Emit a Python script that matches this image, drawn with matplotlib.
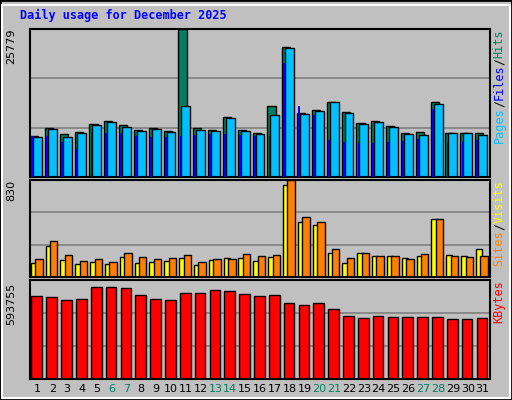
import matplotlib
matplotlib.use("Agg")
import matplotlib.pyplot as plt
from matplotlib.patches import Rectangle

days = list(range(1, 32))
weekend = [6, 7, 13, 14, 20, 21, 27, 28]
hits = [7190, 8590, 7540, 7890, 9300, 9820, 9120, 8240, 8590, 8070, 25779, 8590, 8240, 10520, 8240, 7720,
        12280, 22630, 11230, 11750, 13150, 11400, 9470, 9820, 8950, 7720, 7890, 13150, 7720, 7720, 7720]
files = [7020, 8420, 7020, 7720, 9120, 9650, 8770, 8070, 8420, 7890, 12280, 8240, 8070, 10350, 8070, 7540,
         10870, 22450, 11050, 11580, 12980, 11230, 9300, 9650, 8770, 7540, 7370, 12800, 7720, 7720, 7370]
pages = [7190, 7190, 6140, 4910, 7890, 7720, 7720, 7190, 7020, 7020, 7190, 7370, 7540, 7540, 7370, 7190,
         7190, 19820, 12280, 10870, 6490, 6140, 5960, 5960, 6140, 6310, 6670, 11930, 6140, 6140, 6490]
visits = [120, 265, 145, 110, 128, 110, 171, 120, 128, 137, 162, 103, 145, 162, 162, 137, 171, 787, 470, 445, 205, 120, 205, 180, 180, 162, 180, 496, 188, 180, 239]
sites = [154, 308, 188, 137, 154, 128, 205, 171, 154, 162, 188, 128, 154, 154, 197, 180, 188, 830, 513, 470, 239, 162, 205, 180, 180, 154, 197, 496, 180, 171, 180]
kbytes = [535000, 529000, 510000, 516000, 593755, 593755, 587000, 542000, 516000, 510000, 555000, 555000, 574000, 568000, 548000, 535000, 542000, 490000, 477000, 490000, 452000, 406000, 394000, 406000, 400000, 400000, 400000, 400000, 387000, 387000, 394000]

BG = "#C0C0C0"
fig = plt.figure(figsize=(5.12, 4.0), dpi=100)
fig.patch.set_facecolor(BG)
fig.patches.append(Rectangle((0, 0), 1, 1, transform=fig.transFigure, fill=False, ec="black", lw=2))
fig.patches.append(Rectangle((2/512, 2/400), 508/512, 393/400, transform=fig.transFigure, fill=False, ec="white", lw=1.5))
fig.text(20/512, 1-15/400, "Daily usage for December 2025", color="#0000FF", family="DejaVu Sans Mono",
         weight="bold", fontsize=8.5, va="center")

L, W = 30/512, 460/512
def mkax(top, bot):
    ax = fig.add_axes([L, 1-bot/400, W, (bot-top)/400])
    ax.set_facecolor(BG)
    ax.set_xlim(0.5, 31.5)
    ax.set_xticks([])
    ax.set_yticks([])
    for s in ax.spines.values():
        s.set_color("black"); s.set_linewidth(1.5)
    return ax

ax1 = mkax(29, 177)
ymax1 = 25779 * 1.0
ax1.set_ylim(0, ymax1)
for g in (1/3, 2/3):
    ax1.axhline(ymax1*g, color="#808080", lw=1.2, zorder=0)
x = [d for d in days]
ax1.bar([d-0.5 for d in x], hits, width=0.55, align="edge", color="#008060", ec="black", lw=1)
ax1.bar([d-0.3 for d in x], files, width=0.6, align="edge", color="#00C0FF", ec="black", lw=1)
ax1.bar([d-0.42 for d in x], pages, width=0.12, align="edge", color="#0000FF", lw=0, zorder=3)
ax1.text(-0.04, 1.0, "25779", transform=ax1.transAxes, rotation=90, ha="center", va="top", fontsize=8)

ax2 = mkax(180, 277)
ax2.set_ylim(0, 830)
for g in (1/3, 2/3):
    ax2.axhline(830*g, color="#808080", lw=1.2, zorder=0)
ax2.bar([d-0.45 for d in x], visits, width=0.4, align="edge", color="#FFFF00", ec="black", lw=1)
ax2.bar([d-0.15 for d in x], sites, width=0.5, align="edge", color="#FF8000", ec="black", lw=1)
ax2.text(-0.04, 1.0, "830", transform=ax2.transAxes, rotation=90, ha="center", va="top", fontsize=8)

ax3 = mkax(280, 379)
ax3.set_ylim(0, 593755*99/92)
for g in (1/3, 2/3):
    ax3.axhline(593755*99/92*g, color="#808080", lw=1.2, zorder=0)
ax3.bar([d-0.4 for d in x], kbytes, width=0.72, align="edge", color="#FF0000", ec="black", lw=1)
ax3.text(-0.04, 1.0-3/99, "593755", transform=ax3.transAxes, rotation=90, ha="center", va="top", fontsize=8)

for d in days:
    fig.text((L + W*(d-0.5)/31), 1-389/400, str(d), ha="center", va="center", fontsize=8,
             color="#008060" if d in weekend else "black")

def side(ax, parts):
    r = fig.canvas.get_renderer()
    pos = ax.get_position()
    y = pos.y1
    for txt, c in reversed(parts):
        t = fig.text(pos.x1 + 9/512, y, txt, rotation=90, ha="center", va="top", color=c, fontsize=8.5, family="DejaVu Sans Mono")
        bb = t.get_window_extent(renderer=r)
        y -= bb.height/400

side(ax1, [("Pages", "#00C0FF"), ("/", "black"), ("Files", "#0000FF"), ("/", "black"), ("Hits", "#008060")])
side(ax2, [("Sites", "#FF8000"), ("/", "black"), ("Visits", "#FFFF00")])
side(ax3, [("KBytes", "#FF0000")])

fig.savefig("out.png", dpi=100, facecolor=BG)
